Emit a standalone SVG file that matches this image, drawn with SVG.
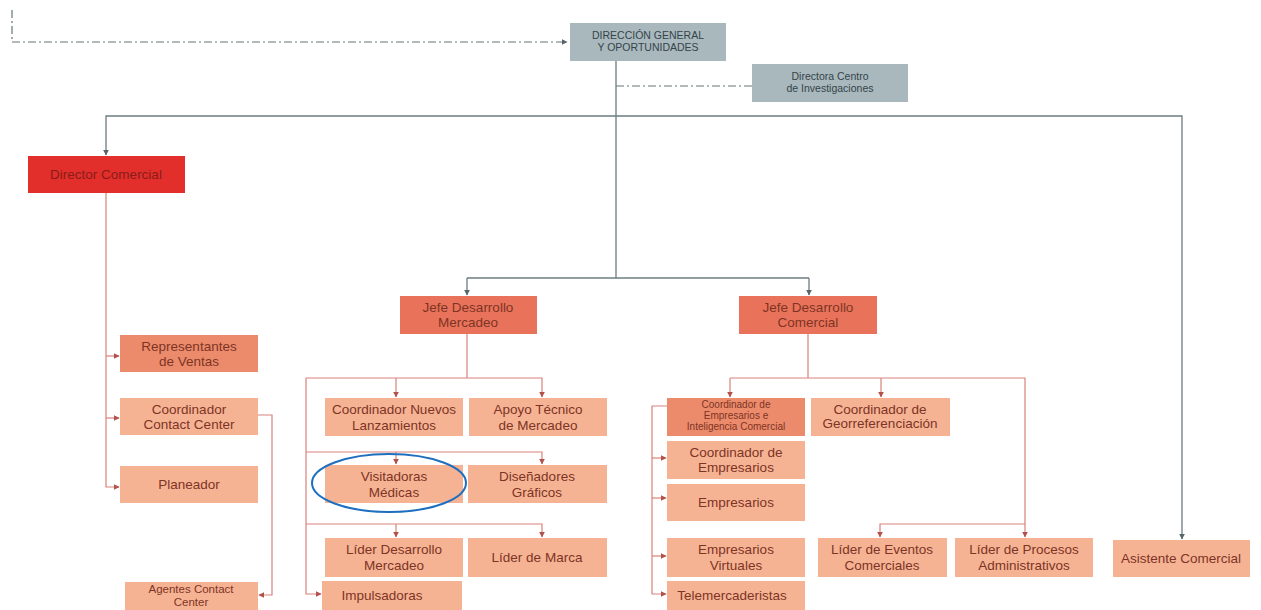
<svg xmlns="http://www.w3.org/2000/svg" width="1261" height="610" viewBox="0 0 1261 610">
<defs>
<marker id="ag" viewBox="0 0 10 10" refX="9" refY="5" markerWidth="6" markerHeight="6" orient="auto" markerUnits="userSpaceOnUse"><path d="M0,0 L10,5 L0,10 z" fill="#55656a"/></marker>
<marker id="ar" viewBox="0 0 10 10" refX="9" refY="5" markerWidth="6" markerHeight="6" orient="auto" markerUnits="userSpaceOnUse"><path d="M0,0 L10,5 L0,10 z" fill="#b2504a"/></marker>
</defs>
<style>
text{font-family:"Liberation Sans",Arial,sans-serif;text-anchor:middle;}
.gr{fill:#a9b8bd;}
.red{fill:#e32f2c;}
.jefe{fill:#e9735a;}
.mid{fill:#ec8b6c;}
.lt{fill:#f5b394;}
.tg{fill:#34444a;font-size:10.5px;}
.tr{fill:#8a1c18;font-size:13.5px;}
.t{fill:#7e3424;font-size:13.5px;}
.ts{fill:#7e3424;font-size:10px;}
.lg{fill:none;stroke:#6c7c80;stroke-width:1.3;}
.lgd{fill:none;stroke:#66767a;stroke-width:1.2;stroke-dasharray:8,3,2,3;}
.lr{fill:none;stroke:#d9827a;stroke-width:1.2;}
</style>
<rect width="1261" height="610" fill="#ffffff"/>
<g id="connectors">
<path class="lgd" d="M12,10 V42 H567" marker-end="url(#ag)"/>
<path class="lgd" d="M616,86 H752"/>
<path class="lg" d="M616,61 V278"/>
<path class="lg" d="M616,116 H106 V155" marker-end="url(#ag)"/>
<path class="lg" d="M616,116 H1182 V539" marker-end="url(#ag)"/>
<path class="lg" d="M467,278 H809"/>
<path class="lg" d="M467,278 V295" marker-end="url(#ag)"/>
<path class="lg" d="M809,278 V295" marker-end="url(#ag)"/>
<path class="lr" d="M106,193 V487 H119" marker-end="url(#ar)"/>
<path class="lr" d="M106,356 H119" marker-end="url(#ar)"/>
<path class="lr" d="M106,418 H119" marker-end="url(#ar)"/>
<path class="lr" d="M258,415 H272 V595 H259" marker-end="url(#ar)"/>
<path class="lr" d="M467,334 V378"/>
<path class="lr" d="M306,378 H542 V397" marker-end="url(#ar)"/>
<path class="lr" d="M396,378 V397" marker-end="url(#ar)"/>
<path class="lr" d="M306,378 V594 H321" marker-end="url(#ar)"/>
<path class="lr" d="M306,452 H542 V464" marker-end="url(#ar)"/>
<path class="lr" d="M396,452 V464" marker-end="url(#ar)"/>
<path class="lr" d="M306,524 H542 V537" marker-end="url(#ar)"/>
<path class="lr" d="M396,524 V537" marker-end="url(#ar)"/>
<path class="lr" d="M808,334 V378"/>
<path class="lr" d="M730,378 H1025 V537" marker-end="url(#ar)"/>
<path class="lr" d="M730,378 V397" marker-end="url(#ar)"/>
<path class="lr" d="M881,378 V397" marker-end="url(#ar)"/>
<path class="lr" d="M1025,524 H880 V537" marker-end="url(#ar)"/>
<path class="lr" d="M667,406 H652 V594 H666" marker-end="url(#ar)"/>
<path class="lr" d="M652,458 H666" marker-end="url(#ar)"/>
<path class="lr" d="M652,498 H666" marker-end="url(#ar)"/>
<path class="lr" d="M652,556 H666" marker-end="url(#ar)"/>
</g>
<g id="n-direccion"><rect class="gr" x="570" y="23" width="156" height="38"/><text class="tg" x="648" y="39">DIRECCIÓN GENERAL</text><text class="tg" x="648" y="51">Y OPORTUNIDADES</text></g>
<g id="n-directora"><rect class="gr" x="752" y="64" width="156" height="38"/><text class="tg" x="830" y="80">Directora Centro</text><text class="tg" x="830" y="92">de Investigaciones</text></g>
<g id="n-director-comercial"><rect class="red" x="28" y="156" width="157" height="37"/><text class="tr" x="106" y="179">Director Comercial</text></g>
<g id="n-representantes"><rect class="mid" x="120" y="335" width="138" height="37"/><text class="t" x="189" y="351">Representantes</text><text class="t" x="189" y="366">de Ventas</text></g>
<g id="n-coord-contact"><rect class="lt" x="120" y="398" width="138" height="37"/><text class="t" x="189" y="414">Coordinador</text><text class="t" x="189" y="429">Contact Center</text></g>
<g id="n-planeador"><rect class="lt" x="120" y="466" width="138" height="37"/><text class="t" x="189" y="489">Planeador</text></g>
<g id="n-agentes"><rect class="lt" x="125" y="582" width="133" height="30"/><text class="t" x="191" y="593" style="font-size:11.5px">Agentes Contact</text><text class="t" x="191" y="606" style="font-size:11.5px">Center</text></g>
<g id="n-jefe-mercadeo"><rect class="jefe" x="400" y="296" width="137" height="38"/><text class="t" x="468" y="312">Jefe Desarrollo</text><text class="t" x="468" y="327">Mercadeo</text></g>
<g id="n-jefe-comercial"><rect class="jefe" x="739" y="296" width="138" height="38"/><text class="t" x="808" y="312">Jefe Desarrollo</text><text class="t" x="808" y="327">Comercial</text></g>
<g id="n-coord-nuevos"><rect class="lt" x="325" y="398" width="138" height="38"/><text class="t" x="394" y="414">Coordinador Nuevos</text><text class="t" x="394" y="430">Lanzamientos</text></g>
<g id="n-apoyo"><rect class="lt" x="469" y="398" width="138" height="38"/><text class="t" x="538" y="414">Apoyo Técnico</text><text class="t" x="538" y="430">de Mercadeo</text></g>
<g id="n-visitadoras"><rect class="lt" x="325" y="465" width="138" height="38"/><text class="t" x="394" y="481">Visitadoras</text><text class="t" x="394" y="497">Médicas</text></g>
<g id="n-disenadores"><rect class="lt" x="468" y="465" width="139" height="38"/><text class="t" x="537" y="481">Diseñadores</text><text class="t" x="537" y="497">Gráficos</text></g>
<g id="n-lider-desarrollo"><rect class="lt" x="325" y="538" width="138" height="39"/><text class="t" x="394" y="554">Líder Desarrollo</text><text class="t" x="394" y="570">Mercadeo</text></g>
<g id="n-lider-marca"><rect class="lt" x="468" y="538" width="139" height="39"/><text class="t" x="537" y="562">Líder de Marca</text></g>
<g id="n-impulsadoras"><rect class="lt" x="322" y="581" width="140" height="31"/><text class="t" x="382" y="600">Impulsadoras</text></g>
<g id="n-coord-emp-int"><rect class="mid" x="667" y="398" width="138" height="38"/><text class="ts" x="736" y="408">Coordinador de</text><text class="ts" x="736" y="419">Empresarios e</text><text class="ts" x="736" y="430">Inteligencia Comercial</text></g>
<g id="n-coord-geo"><rect class="lt" x="811" y="398" width="139" height="38"/><text class="t" x="880" y="414">Coordinador de</text><text class="t" x="880" y="428">Georreferenciación</text></g>
<g id="n-coord-emp"><rect class="lt" x="667" y="441" width="138" height="38"/><text class="t" x="736" y="457">Coordinador de</text><text class="t" x="736" y="472">Empresarios</text></g>
<g id="n-empresarios"><rect class="lt" x="667" y="484" width="138" height="37"/><text class="t" x="736" y="507">Empresarios</text></g>
<g id="n-emp-virtuales"><rect class="lt" x="667" y="538" width="138" height="39"/><text class="t" x="736" y="554">Empresarios</text><text class="t" x="736" y="570">Virtuales</text></g>
<g id="n-telemercaderistas"><rect class="lt" x="667" y="581" width="138" height="31"/><text class="t" x="732" y="600">Telemercaderistas</text></g>
<g id="n-lider-eventos"><rect class="lt" x="818" y="538" width="129" height="39"/><text class="t" x="882" y="554">Líder de Eventos</text><text class="t" x="882" y="570">Comerciales</text></g>
<g id="n-lider-procesos"><rect class="lt" x="955" y="538" width="138" height="39"/><text class="t" x="1024" y="554">Líder de Procesos</text><text class="t" x="1024" y="570">Administrativos</text></g>
<g id="n-asistente"><rect class="lt" x="1113" y="540" width="137" height="37"/><text class="t" x="1181" y="563">Asistente Comercial</text></g>
<ellipse cx="389" cy="483" rx="77" ry="29" fill="none" stroke="#1f6fc0" stroke-width="2"/>
</svg>
